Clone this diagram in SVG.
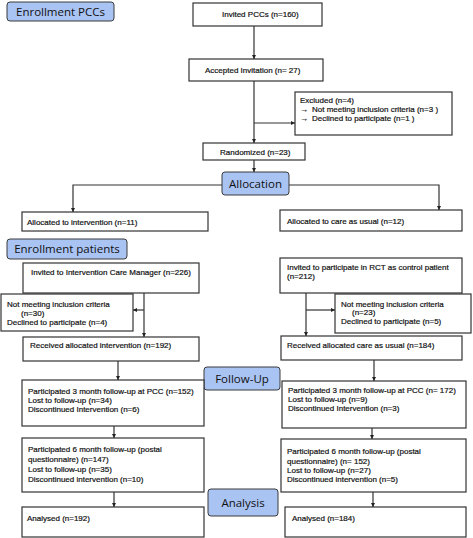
<svg xmlns="http://www.w3.org/2000/svg" width="473" height="538" viewBox="0 0 473 538">
<style>
.bg{fill:#fff}
.box{fill:#fff;stroke:#333;stroke-width:1.2}
.lab{fill:#a9c3f3;stroke:#3a3a3a;stroke-width:1}
.t{font-family:"Liberation Sans",Arial,sans-serif;font-size:8px;fill:#111;stroke:#111;stroke-width:0.2}
.lt{font-family:"Open Sans","Noto Sans",sans-serif;font-size:11.5px;font-weight:500;fill:#111;text-anchor:middle}
.c{fill:none;stroke:#333;stroke-width:1.2}
</style>
<defs>
<marker id="ah" viewBox="0 0 10 10" refX="10" refY="5" markerWidth="4" markerHeight="4" orient="auto" markerUnits="userSpaceOnUse">
<path d="M0,0 L10,5 L0,10 z" fill="#222"/>
</marker>
</defs>
<rect class="bg" width="473" height="538"/>

<g id="connectors">
<path class="c" d="M254,26 V59" marker-end="url(#ah)"/>
<path class="c" d="M254,81 V143" marker-end="url(#ah)"/>
<path class="c" d="M254,123 H295" marker-end="url(#ah)"/>
<path class="c" d="M254,160 V172" marker-end="url(#ah)"/>
<path class="c" d="M222,185 H73 V212" marker-end="url(#ah)"/>
<path class="c" d="M289,185 H439 V210" marker-end="url(#ah)"/>
<path class="c" d="M144,293 V337" marker-end="url(#ah)"/>
<path class="c" d="M144,310 H133" marker-end="url(#ah)"/>
<path class="c" d="M306,293 V336" marker-end="url(#ah)"/>
<path class="c" d="M306,310 H335" marker-end="url(#ah)"/>
<path class="c" d="M118,361 V380" marker-end="url(#ah)"/>
<path class="c" d="M374,360 V381" marker-end="url(#ah)"/>
<path class="c" d="M114,426 V438" marker-end="url(#ah)"/>
<path class="c" d="M372,428 V439" marker-end="url(#ah)"/>
<path class="c" d="M114,492 V507" marker-end="url(#ah)"/>
<path class="c" d="M373,492 V507" marker-end="url(#ah)"/>
</g>

<g id="enrollment-pccs">
<rect class="lab" x="7" y="2" width="107" height="19" rx="3"/>
<text class="lt" x="60.5" y="16">Enrollment PCCs</text>
</g>
<g id="invited-pccs">
<rect class="box" x="193" y="3" width="129" height="23"/>
<text class="t" x="222" y="17">Invited PCCs (n=160)</text>
</g>
<g id="accepted">
<rect class="box" x="189" y="59" width="134" height="22"/>
<text class="t" x="205" y="73">Accepted Invitation (n= 27)</text>
</g>
<g id="excluded">
<rect class="box" x="295" y="92" width="157" height="43"/>
<text class="t" x="300" y="103">Excluded (n=4)</text>
<text class="t" y="112"><tspan x="300">→</tspan><tspan x="312">Not meeting inclusion criteria (n=3 )</tspan></text>
<text class="t" y="121"><tspan x="300">→</tspan><tspan x="312">Declined to participate (n=1 )</tspan></text>
</g>
<g id="randomized">
<rect class="box" x="203" y="143" width="102" height="17"/>
<text class="t" x="220" y="155">Randomized (n=23)</text>
</g>
<g id="allocation">
<rect class="lab" x="222" y="172" width="67" height="23" rx="3"/>
<text class="lt" x="255.5" y="188">Allocation</text>
</g>
<g id="alloc-intervention">
<rect class="box" x="22" y="212" width="186" height="19"/>
<text class="t" x="27" y="225">Allocated to intervention (n=11)</text>
</g>
<g id="alloc-care">
<rect class="box" x="280" y="210" width="182" height="21"/>
<text class="t" x="287" y="224">Allocated to care as usual (n=12)</text>
</g>
<g id="enrollment-patients">
<rect class="lab" x="7" y="239" width="120" height="20" rx="3"/>
<text class="lt" x="67" y="253">Enrollment patients</text>
</g>
<g id="invited-icm">
<rect class="box" x="23" y="263" width="176" height="30"/>
<text class="t" x="31" y="275">Invited to Intervention Care Manager (n=226)</text>
</g>
<g id="invited-rct">
<rect class="box" x="280" y="258" width="182" height="35"/>
<text class="t" x="287" y="270">Invited to participate in RCT as control patient</text>
<text class="t" x="287" y="279">(n=212)</text>
</g>
<g id="excl-left">
<rect class="box" x="1" y="294" width="132" height="37"/>
<text class="t" x="7" y="307">Not meeting inclusion criteria</text>
<text class="t" x="21" y="316">(n=30)</text>
<text class="t" x="7" y="325">Declined to participate (n=4)</text>
</g>
<g id="excl-right">
<rect class="box" x="335" y="294" width="136" height="39"/>
<text class="t" x="341" y="307">Not meeting inclusion criteria</text>
<text class="t" x="352" y="315">(n=23)</text>
<text class="t" x="341" y="324">Declined to participate (n=5)</text>
</g>
<g id="received-left">
<rect class="box" x="23" y="337" width="176" height="24"/>
<text class="t" x="30" y="348">Received allocated intervention (n=192)</text>
</g>
<g id="received-right">
<rect class="box" x="281" y="336" width="181" height="24"/>
<text class="t" x="287" y="348">Received allocated care as usual (n=184)</text>
</g>
<g id="follow-up">
<rect class="lab" x="204" y="367" width="76" height="23" rx="3"/>
<text class="lt" x="242" y="383">Follow-Up</text>
</g>
<g id="fu3-left">
<rect class="box" x="22" y="380" width="182" height="46"/>
<text class="t" x="28" y="394">Participated 3 month follow-up at PCC (n=152)</text>
<text class="t" x="28" y="403">Lost to follow-up (n=34)</text>
<text class="t" x="28" y="412">Discontinued Intervention (n=6)</text>
</g>
<g id="fu3-right">
<rect class="box" x="282" y="381" width="184" height="47"/>
<text class="t" x="288" y="393">Participated 3 month follow-up at PCC (n= 172)</text>
<text class="t" x="288" y="402">Lost to follow-up (n=9)</text>
<text class="t" x="288" y="411">Discontinued Intervention (n=3)</text>
</g>
<g id="fu6-left">
<rect class="box" x="22" y="438" width="182" height="54"/>
<text class="t" x="28" y="452">Participated 6 month follow-up (postal</text>
<text class="t" x="28" y="462">questionnaire) (n=147)</text>
<text class="t" x="28" y="472">Lost to follow-up (n=35)</text>
<text class="t" x="28" y="482">Discontinued intervention (n=10)</text>
</g>
<g id="fu6-right">
<rect class="box" x="281" y="439" width="185" height="53"/>
<text class="t" x="287" y="454">Participated 6 month follow-up (postal</text>
<text class="t" x="287" y="464">questionnaire) (n= 152)</text>
<text class="t" x="287" y="473">Lost to follow-up (n=27)</text>
<text class="t" x="287" y="482">Discontinued intervention (n=5)</text>
</g>
<g id="analysis">
<rect class="lab" x="208" y="489" width="70" height="27" rx="3"/>
<text class="lt" x="243" y="507">Analysis</text>
</g>
<g id="analysed-left">
<rect class="box" x="22" y="507" width="182" height="30"/>
<text class="t" x="27" y="521">Analysed (n=192)</text>
</g>
<g id="analysed-right">
<rect class="box" x="285" y="507" width="181" height="30"/>
<text class="t" x="292" y="521">Analysed (n=184)</text>
</g>
</svg>
